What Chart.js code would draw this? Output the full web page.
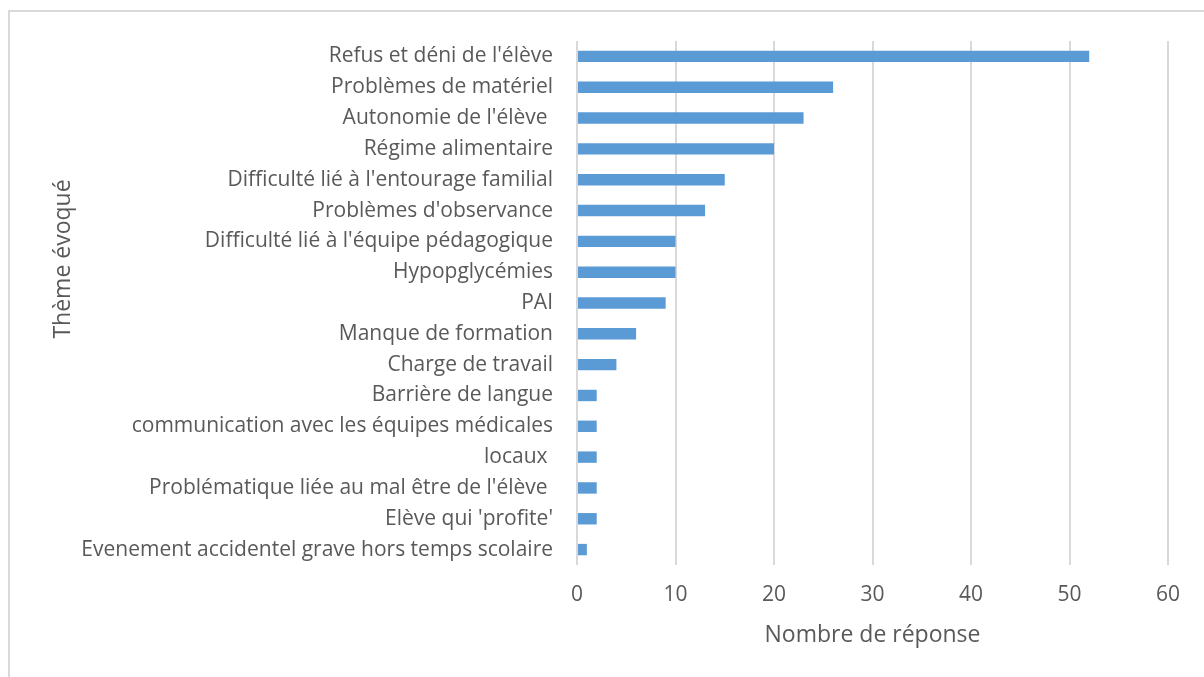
<!DOCTYPE html>
<html lang="fr">
<head>
  <meta charset="UTF-8">
  <title>Thème évoqué</title>
  <script src="https://cdn.jsdelivr.net/npm/chart.js"></script>
  <style>
    body { margin: 0; background: #fff; }
    #wrap { position: relative; width: 1204px; height: 677px; }
    #frame {
      position: absolute; left: 8px; top: 10px; right: 0; bottom: 0;
      border-top: 2px solid #d9d9d9; border-left: 2px solid #d9d9d9;
      pointer-events: none;
    }
  </style>
</head>
<body>
  <div id="wrap">
    <canvas id="myChart" width="1204" height="677"></canvas>
    <div id="frame"></div>
  </div>

  <script>
    const categories = [
      "Refus et déni de l'élève",
      "Problèmes de matériel",
      "Autonomie de l'élève ",
      "Régime alimentaire",
      "Difficulté lié à l'entourage familial",
      "Problèmes d'observance",
      "Difficulté lié à l'équipe pédagogique",
      "Hypopglycémies",
      "PAI",
      "Manque de formation",
      "Charge de travail",
      "Barrière de langue",
      "communication avec les équipes médicales",
      "locaux ",
      "Problématique liée au mal être de l'élève ",
      "Elève qui 'profite'",
      "Evenement accidentel grave hors temps scolaire"
    ];
    const responses = [52, 26, 23, 20, 15, 13, 10, 10, 9, 6, 4, 2, 2, 2, 2, 2, 1];
    const xMin = 0;
    const xMax = 60;
    const xStep = 10;

    const textColor = '#595959';
    const font = "'Open Sans', sans-serif";

    // y title drawn by hand: Excel puts it above the middle of the plot
    const yTitle = {
      id: 'yTitle',
      afterDraw(chart) {
        const c = chart.ctx;
        c.save();
        c.translate(63, 259);
        c.rotate(-Math.PI / 2);
        c.font = "23px " + font;
        c.fillStyle = textColor;
        c.textAlign = 'center';
        c.textBaseline = 'middle';
        c.fillText('Thème évoqué', 0, 0);
        c.restore();
      }
    };

    const ctx = document.getElementById('myChart').getContext('2d');
    const myChart = new Chart(ctx, {
      type: 'bar',
      data: {
        labels: categories,
        datasets: [{
          label: 'Nombre de réponse',
          data: responses,
          backgroundColor: '#5b9bd5',
          barPercentage: 0.37,
          categoryPercentage: 1
        }]
      },
      options: {
        indexAxis: 'y',
        responsive: false,
        animation: false,
        devicePixelRatio: 1,
        layout: { padding: { left: 47, right: 36, top: 41, bottom: 24 } },
        plugins: { legend: { display: false }, tooltip: { enabled: false } },
        scales: {
          x: {
            min: xMin,
            max: xMax,
            ticks: { stepSize: xStep, color: textColor, font: { family: font, size: 21 }, padding: 17 },
            grid: { color: '#d9d9d9', lineWidth: 2, drawTicks: false },
            border: { display: false },
            title: { display: true, text: 'Nombre de réponse', color: textColor, font: { family: font, size: 23 } },
            afterFit: function (scale) { scale.height = 88; }
          },
          y: {
            ticks: { color: textColor, font: { family: font, size: 21 }, padding: 24, autoSkip: false },
            grid: { display: false, drawTicks: false },
            border: { display: false },
            afterFit: function (scale) { scale.width = 530; }
          }
        }
      },
      plugins: [yTitle]
    });
  </script>
</body>
</html>
